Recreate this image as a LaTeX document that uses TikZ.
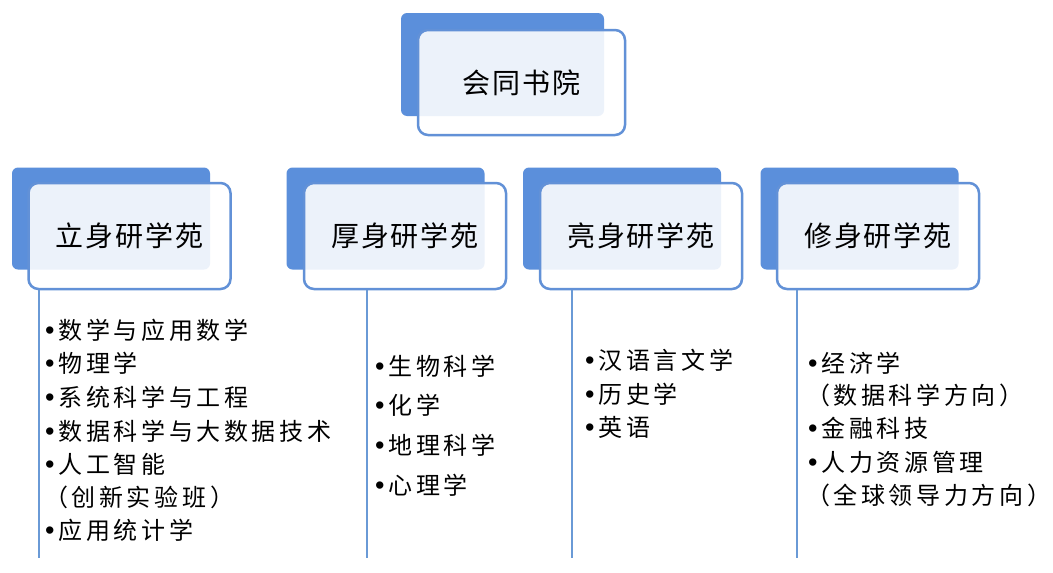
\documentclass[tikz,border=0pt]{standalone}
\usepackage{fontspec}
\setmainfont{Noto Sans CJK SC}
\newfontfamily\cjkhead[LetterSpace=7]{Noto Sans CJK SC}
\newfontfamily\cjkbody[LetterSpace=15]{Noto Sans CJK SC}
\newfontfamily\latinf{Liberation Sans}
\usetikzlibrary{backgrounds}
\newcommand\bu{{\latinf\fontsize{27pt}{30pt}\selectfont\raisebox{-0.5pt}{•}}\hspace{4pt}}
\newcommand\rp{\hspace{4pt}）}
\definecolor{backblue}{RGB}{91,143,219}
\definecolor{edgeblue}{RGB}{98,145,215}
\definecolor{linkblue}{RGB}{79,129,189}
\definecolor{stemblue}{RGB}{106,154,214}
\tikzset{
  bgbox/.style={fill=backblue, draw=none, rounded corners=6pt, minimum width=198pt, minimum height=102pt, inner sep=0pt},
  fgbox/.style={draw=edgeblue, line width=2.5pt, fill=white, fill opacity=0.885, text opacity=1, rounded corners=10pt, minimum width=202pt, minimum height=106pt, inner sep=0pt, font=\cjkhead\fontsize{28pt}{32pt}\selectfont},
  link/.style={draw=linkblue, line width=2.2pt},
  stem/.style={draw=stemblue, line width=2pt},
  item/.style={anchor=base west, inner sep=0pt, font=\cjkbody\fontsize{24pt}{28pt}\selectfont}
}
\begin{document}
\begin{tikzpicture}[x=1pt,y=-1pt]
\useasboundingbox[fill=white] (0,0) rectangle (1053,573);
% top
\node[bgbox, minimum width=203pt, minimum height=103pt] (top-bg) at (502.5,64.5) {};
\node[fgbox, minimum width=207pt, minimum height=105pt] (top) at (521.5,82.5) {会同书院};
% colleges
\node[bgbox] (c1-bg) at (111,218.5) {};
\node[fgbox] (c1) at (129.5,236) {立身研学苑};
\node[bgbox] (c2-bg) at (385.5,218.5) {};
\node[fgbox] (c2) at (405,236) {厚身研学苑};
\node[bgbox] (c3-bg) at (622,218.5) {};
\node[fgbox] (c3) at (641,236) {亮身研学苑};
\node[bgbox] (c4-bg) at (859.5,218.5) {};
\node[fgbox] (c4) at (878,236) {修身研学苑};
% connectors
\coordinate (bus) at (0,154);
\begin{scope}[on background layer]
\draw[link] (top-bg.south) -- (top-bg.south |- bus);
\draw[link] (c1-bg.north) -- (c1-bg.north |- bus) -- (c4-bg.north |- bus) -- (c4-bg.north);
\draw[link] (c2-bg.north) -- (c2-bg.north |- bus);
\draw[link] (c3-bg.north) -- (c3-bg.north |- bus);
\end{scope}
\coordinate (s1) at (39,558);
\coordinate (s2) at (367,558);
\coordinate (s3) at (572,558);
\coordinate (s4) at (797,558);
\draw[stem] (s1 |- c1.south) -- (s1);
\draw[stem] (s2 |- c2.south) -- (s2);
\draw[stem] (s3 |- c3.south) -- (s3);
\draw[stem] (s4 |- c4.south) -- (s4);
% column 1
\node[item] (a1) at (45,339) {\bu 数学与应用数学};
\node[item] (a2) at (45,372) {\bu 物理学};
\node[item] (a3) at (45,406) {\bu 系统科学与工程};
\node[item] (a4) at (45,440) {\bu 数据科学与大数据技术};
\node[item] (a5) at (45,473) {\bu 人工智能};
\node[item] (a6) at (44,506) {（创新实验班\rp};
\node[item] (a7) at (45,539) {\bu 应用统计学};
% column 2
\node[item] (b1) at (375,375) {\bu 生物科学};
\node[item] (b2) at (375,414) {\bu 化学};
\node[item] (b3) at (375,454) {\bu 地理科学};
\node[item] (b4) at (375,494) {\bu 心理学};
% column 3
\node[item] (d1) at (585,369) {\bu 汉语言文学};
\node[item] (d2) at (585,403) {\bu 历史学};
\node[item] (d3) at (585,436) {\bu 英语};
% column 4
\node[item] (e1) at (808,372) {\bu 经济学};
\node[item] (e2) at (806,404) {（数据科学方向\rp};
\node[item] (e3) at (808,437) {\bu 金融科技};
\node[item] (e4) at (808,471) {\bu 人力资源管理};
\node[item] (e5) at (806,504) {（全球领导力方向\rp};
\end{tikzpicture}
\end{document}
